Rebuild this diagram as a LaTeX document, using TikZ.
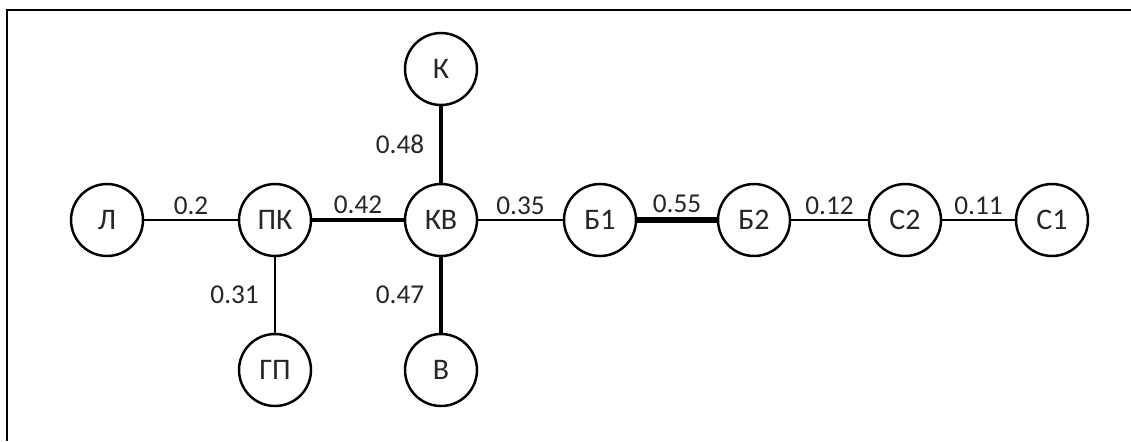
\documentclass[tikz,border=0pt]{standalone}
\usepackage{fontspec}
\setmainfont{Carlito}
\usetikzlibrary{positioning}
\usetikzlibrary{calc}
\tikzstyle{vertex}=[circle,fill=white,draw,line width=1.4pt,minimum size=1.44cm,inner sep=0pt,text=black!85,font=\fontsize{17}{20}\selectfont]
\tikzstyle{edge} = [draw,line width=1.2pt]
\tikzstyle{weight} = [font=\fontsize{15.5}{18}\selectfont,text=black!85,inner sep=2.5pt]

\begin{document}
\begin{tikzpicture}[x=0.02cm,y=-0.02cm]
   \useasboundingbox (0,0) rectangle (1131,441);
   \draw[line width=1.6pt] (1131,10) -- (7,10) -- (7,441);

    \foreach \pos/\name/\txt in {{(107,220)/L/Л}, {(275,220)/PK/ПК}, {(441,220)/KV/КВ}, {(441,69)/K/К}, {(441,370)/V/В}, {(275,370)/GP/ГП}, {(600,220)/B1/Б1}, {(754,220)/B2/Б2}, {(905,220)/S2/С2}, {(1052,220)/S1/С1}}
        \node[vertex] (\name) at \pos {\txt};

    % horizontal links
    \foreach \source/\dest/\weight/\lw in {L/PK/0.2/1.2pt, PK/KV/0.42/2.4pt, KV/B1/0.35/1.2pt, B1/B2/0.55/3pt, B2/S2/0.12/1.2pt, S2/S1/0.11/1.2pt}
            \path[edge, line width=\lw] (\source) -- node[weight,above]{\weight} (\dest);

    % vertical links
    \foreach \source/\dest/\weight/\lw in {K/KV/0.48/2.2pt, KV/V/0.47/2.2pt, PK/GP/0.31/1.5pt}
            \path[edge, line width=\lw] (\source) -- node[weight,left=6pt]{\weight} (\dest);

\end{tikzpicture}
\end{document}
